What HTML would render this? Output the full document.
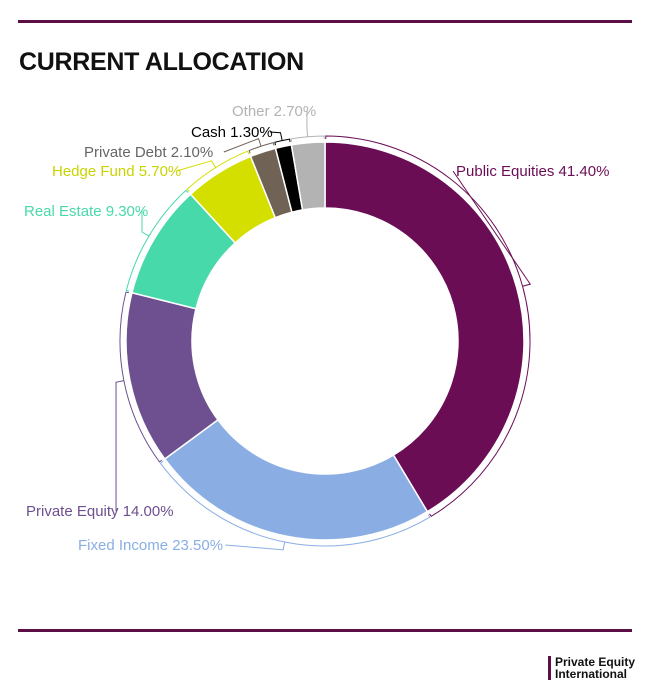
<!DOCTYPE html>
<html><head><meta charset="utf-8"><style>
body{margin:0;background:#fff;}
#wrap{position:relative;width:654px;height:696px;font-family:"Liberation Sans",sans-serif;}
.rule{position:absolute;left:18px;width:614px;height:3px;background:#5b0f45;}
h1{position:absolute;left:19px;top:48px;margin:0;font-size:25px;font-weight:bold;color:#111;letter-spacing:-0.3px;}
</style></head><body>
<div id="wrap">
<div class="rule" style="top:20px"></div>
<h1>CURRENT ALLOCATION</h1>
<svg id="chart" width="654" height="696" style="position:absolute;left:0;top:0"></svg>
<div class="rule" style="top:629px"></div>
<div style="position:absolute;left:548px;top:656px;border-left:3px solid #5b0f45;padding-left:4px;font-size:12px;font-weight:bold;line-height:12px;color:#111">Private Equity<br>International</div>
</div>
<script>
const categories=["Public Equities","Fixed Income","Private Equity","Real Estate","Hedge Fund","Private Debt","Cash","Other"];
const values=[41.4,23.5,14.0,9.3,5.7,2.1,1.3,2.7];
const valueLabels=["41.40%","23.50%","14.00%","9.30%","5.70%","2.10%","1.30%","2.70%"];
const colors=["#6b0d55","#8aaee3","#6e5090","#48d9ab","#d4df00","#716256","#000000","#b3b3b3"];
const textColors=["#6b0d55","#8aaee3","#6e5090","#48d9ab","#c8d400","#666666","#000000","#b3b3b3"];
const labelPos=[[456,176],[78,550],[26,516],[24,216],[52,176],[84,157],[191,137],[232,116]];
const NS="http://www.w3.org/2000/svg";
const svg=document.getElementById("chart");
const cx=325,cy=341,R=199,r=133;
const total=values.reduce((a,b)=>a+b,0);
function ang(v){return v/total*2*Math.PI;}
function pt(a,rad){return [cx+rad*Math.sin(a),cy-rad*Math.cos(a)];}
let acc=0;
values.forEach((v,i)=>{
  const a0=ang(acc),a1=ang(acc+v);acc+=v;
  const large=(a1-a0)>Math.PI?1:0;
  const p0=pt(a0,R),p1=pt(a1,R),q1=pt(a1,r),q0=pt(a0,r);
  const p=document.createElementNS(NS,"path");
  p.setAttribute("d",`M${p0[0]},${p0[1]}A${R},${R} 0 ${large} 1 ${p1[0]},${p1[1]}L${q1[0]},${q1[1]}A${r},${r} 0 ${large} 0 ${q0[0]},${q0[1]}Z`);
  p.setAttribute("fill",colors[i]);p.setAttribute("stroke","#fff");p.setAttribute("stroke-width","1.5");
  
  
  svg.appendChild(p);
  // bracket arc outside slice
  const rb=R+6, b0=pt(a0+0.004,rb), b1=pt(a1-0.004,rb);
  const b0i=pt(a0+0.004,R+3), b1i=pt(a1-0.004,R+3);
  const br=document.createElementNS(NS,"path");
  br.setAttribute("d",`M${b0i[0]},${b0i[1]}L${b0[0]},${b0[1]}A${rb},${rb} 0 ${large} 1 ${b1[0]},${b1[1]}L${b1i[0]},${b1i[1]}`);
  br.setAttribute("fill","none");br.setAttribute("stroke",colors[i]);br.setAttribute("stroke-width","1");
  
  
  svg.appendChild(br);
  // leader from bracket midpoint to label
  const am=(a0+a1)/2, m=pt(am,rb), m2=pt(am,rb+8);
  const lp=labelPos[i];
  const tw=(categories[i].length+valueLabels[i].length+1)*7.6;
  const right=lp[0]>cx;
  const ex=right?lp[0]-3:Math.min(lp[0]+tw+3,m2[0]);
  const ey=lp[1]-5;
  const ln=document.createElementNS(NS,"polyline");
  ln.setAttribute("points",`${m[0]},${m[1]} ${m2[0]},${m2[1]} ${ex},${ey}`);
  ln.setAttribute("fill","none");ln.setAttribute("stroke",colors[i]);ln.setAttribute("stroke-width","1");
  
  
  svg.appendChild(ln);
  const t=document.createElementNS(NS,"text");
  t.setAttribute("x",lp[0]);t.setAttribute("y",lp[1]);
  t.setAttribute("fill",textColors[i]);t.setAttribute("font-size","15");
  t.setAttribute("font-family","Liberation Sans, sans-serif");
  t.textContent=categories[i]+" "+valueLabels[i];
  
  
  svg.appendChild(t);
});
</script>
</body></html>
